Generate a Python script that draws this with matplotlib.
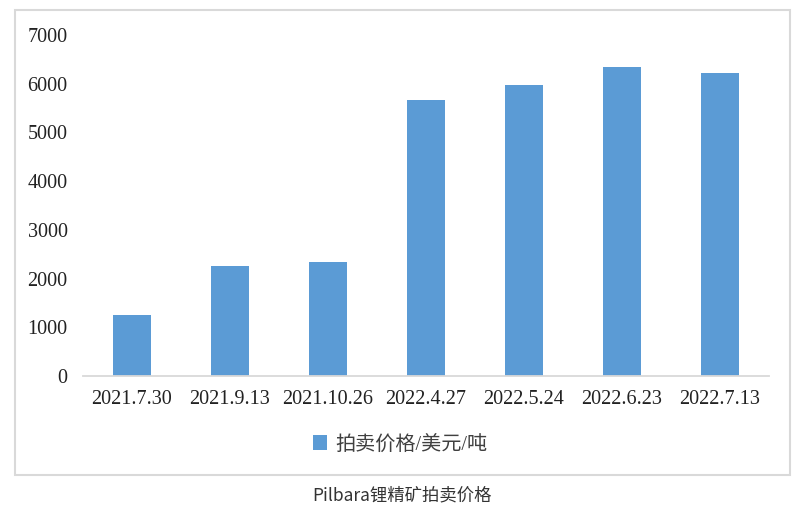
import matplotlib
matplotlib.use('Agg')
from matplotlib import pyplot as plt
from matplotlib.patches import Rectangle

dates = ['2021.7.30', '2021.9.13', '2021.10.26', '2022.4.27', '2022.5.24', '2022.6.23', '2022.7.13']
prices = [1250, 2250, 2350, 5670, 5980, 6340, 6210]
series_name = '拍卖价格/美元/吨'
caption = 'Pilbara锂精矿拍卖价格'
yticks = [0, 1000, 2000, 3000, 4000, 5000, 6000, 7000]

serif = ['Liberation Serif', 'Noto Sans CJK SC']
sans = ['Noto Sans CJK SC', 'DejaVu Sans']

fig = plt.figure(figsize=(8, 5.13), dpi=100)

# outer light grey frame around the chart
fig.patches.append(Rectangle((15 / 800, 1 - 475 / 513), 775 / 800, 465 / 513,
                             transform=fig.transFigure, fill=False,
                             edgecolor='#d9d9d9', linewidth=1.5))

ax = fig.add_axes([83 / 800, 1 - 376 / 513, 686 / 800, 341 / 513])
x = range(len(dates))
bars = ax.bar(x, prices, width=0.39, color='#5b9bd5', label=series_name)

ax.set_xlim(-0.5, len(dates) - 0.5)
ax.set_ylim(0, 7000)
ax.set_yticks(yticks)
ax.set_xticks(list(x))
ax.set_xticklabels(dates, family=serif, fontsize=14.5)
ax.set_yticklabels([str(t) for t in yticks], family=serif, fontsize=14.5)
ax.tick_params(length=0, pad=11, colors='#222222')
ax.tick_params(axis='x', pad=10)
for s in ['top', 'right', 'left']:
    ax.spines[s].set_visible(False)
ax.spines['bottom'].set_color('#d9d9d9')
ax.spines['bottom'].set_linewidth(1.3)

leg = fig.legend(handles=[bars], labels=[series_name], loc='center',
                 bbox_to_anchor=(400 / 800, 1 - 445 / 513), frameon=False,
                 handlelength=0.7, handleheight=0.7, handletextpad=0.4,
                 prop={'family': serif, 'size': 14.5})
for t in leg.get_texts():
    t.set_color('#404040')

fig.text(402 / 800, 1 - 495 / 513, caption, ha='center', va='center',
         family=sans, fontsize=12.5, color='#333333')

fig.savefig('out.png', dpi=100)
